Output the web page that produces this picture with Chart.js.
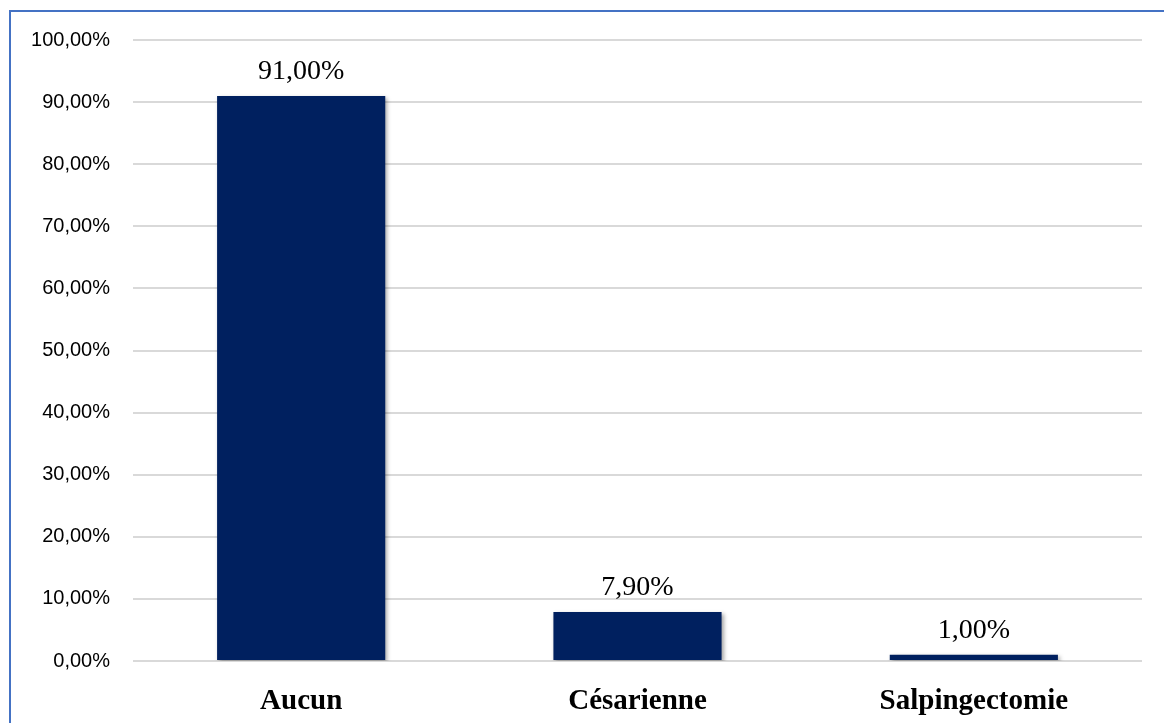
<!DOCTYPE html>
<html>
<head>
<meta charset="utf-8">
<script src="https://cdn.jsdelivr.net/npm/chart.js@4/dist/chart.umd.min.js"></script>
<style>
  html, body { margin: 0; padding: 0; overflow: hidden; background: #fff; }
  #frame {
    position: absolute; left: 9px; top: 10px;
    width: 1300px; height: 900px;
    border: 2px solid #4472c4;
  }
  #wrap { position: absolute; left: 0; top: 0; width: 1164px; height: 723px; }
</style>
</head>
<body>
<div id="frame"></div>
<div id="wrap"><canvas id="chart" width="1164" height="723"></canvas></div>
<script>
// antécédents chirurgicaux (%)
const categories = ['Aucun', 'Césarienne', 'Salpingectomie'];
const values = [91.0, 7.9, 1.0];
const yTicks = [0, 10, 20, 30, 40, 50, 60, 70, 80, 90, 100];

const serif = '"Liberation Serif", "Times New Roman", serif';

function formatPct(v) {
  return v.toFixed(2).replace('.', ',') + '%';
}

// draws the value over each bar
const valueLabels = {
  id: 'valueLabels',
  afterDatasetsDraw(chart) {
    const ctx = chart.ctx;
    const meta = chart.getDatasetMeta(0);
    ctx.save();
    ctx.font = '28px ' + serif;
    ctx.fillStyle = '#000';
    ctx.textAlign = 'center';
    ctx.textBaseline = 'alphabetic';
    meta.data.forEach((bar, i) => {
      ctx.fillText(formatPct(values[i]), bar.x, bar.y - 17);
    });
    ctx.restore();
  }
};

// soft shadow under the bars
const barShadow = {
  id: 'barShadow',
  beforeDatasetsDraw(chart) {
    const ctx = chart.ctx;
    ctx.save();
    ctx.shadowColor = 'rgba(0,0,0,0.35)';
    ctx.shadowBlur = 4;
    ctx.shadowOffsetX = 2;
    ctx.shadowOffsetY = 2;
  },
  afterDatasetsDraw(chart) {
    chart.ctx.restore();
  }
};

new Chart(document.getElementById('chart'), {
  type: 'bar',
  data: {
    labels: categories,
    datasets: [{
      data: values,
      backgroundColor: '#00205f',
      borderWidth: 0,
      barPercentage: 0.5,
      categoryPercentage: 1.0
    }]
  },
  options: {
    responsive: false,
    animation: false,
    layout: { padding: { left: 0, right: 22, top: 40, bottom: 0 } },
    plugins: {
      legend: { display: false },
      tooltip: { enabled: false }
    },
    scales: {
      x: {
        grid: { display: false },
        border: { display: false },
        ticks: {
          color: '#000',
          padding: 15,
          font: { family: serif, size: 29, weight: 'bold' }
        },
        afterFit(scale) { scale.height = 62; }
      },
      y: {
        min: 0,
        max: 100,
        afterBuildTicks(scale) {
          scale.ticks = yTicks.map(v => ({ value: v }));
        },
        grid: { color: '#d9d9d9', lineWidth: 2, drawTicks: false },
        border: { display: false },
        ticks: {
          color: '#000',
          padding: 23,
          font: { family: '"Liberation Sans", Arial, sans-serif', size: 20 },
          callback: v => formatPct(v)
        },
        afterFit(scale) { scale.width = 133; }
      }
    }
  },
  plugins: [barShadow, valueLabels]
});
</script>
</body>
</html>
